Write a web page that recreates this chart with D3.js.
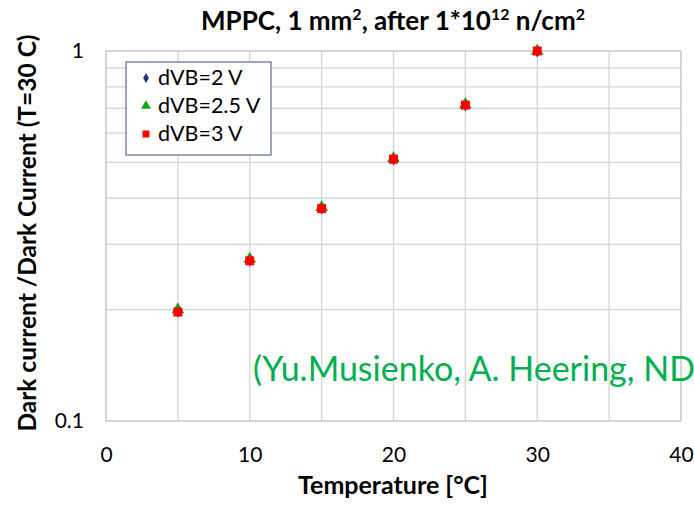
<!DOCTYPE html>
<html>
<head>
<meta charset="utf-8">
<script src="https://cdn.jsdelivr.net/npm/d3@7"></script>
<style>
  body { margin: 0; background: #fff; }
  svg { font-family: Lato, "Open Sans", sans-serif; }
  .grid line { stroke: #d4d4d4; stroke-width: 1.3; }
</style>
</head>
<body>
<svg width="694" height="507"></svg>
<script>
// Data
var temps = [5, 10, 15, 20, 25, 30];
var dvb2 = [0.198, 0.272, 0.376, 0.511, 0.715, 1.0];
var dvb25 = [0.200, 0.274, 0.378, 0.513, 0.717, 1.0];
var dvb3 = [0.197, 0.271, 0.375, 0.510, 0.714, 1.0];
var seriesNames = ["dVB=2 V", "dVB=2.5 V", "dVB=3 V"];
var xTicks = [0, 10, 20, 30, 40];
var yTicks = [0.1, 1];

var svg = d3.select("svg");
var x = d3.scaleLinear().domain([0, 40]).range([106, 681]);
var y = d3.scaleLog().domain([0.1, 1]).range([421, 51]);

// grid
var grid = svg.append("g").attr("class", "grid");
grid.selectAll(".v").data(d3.range(5, 40, 5)).enter().append("line")
  .attr("x1", d => x(d)).attr("x2", d => x(d))
  .attr("y1", y(1)).attr("y2", y(0.1));
var minor = [];
for (var k = 2; k <= 9; k++) minor.push(k / 10);
grid.selectAll(".h").data(minor).enter().append("line")
  .attr("x1", x(0)).attr("x2", x(40))
  .attr("y1", d => y(d)).attr("y2", d => y(d));

// plot border
svg.append("rect")
  .attr("x", x(0)).attr("y", y(1))
  .attr("width", x(40) - x(0)).attr("height", y(0.1) - y(1))
  .attr("fill", "none").attr("stroke", "#bfbfbf").attr("stroke-width", 1.3);

// axes
var xAxis = svg.append("g").attr("transform", "translate(0," + y(0.1) + ")")
  .call(d3.axisBottom(x).tickValues(xTicks).tickSize(0).tickPadding(26));
xAxis.select(".domain").remove();
xAxis.selectAll("text").attr("font-size", 21).attr("fill", "#000")
  .style("font-family", "Lato, sans-serif");

var yAxis = svg.append("g").attr("transform", "translate(" + x(0) + ",0)")
  .call(d3.axisLeft(y).tickValues(yTicks).tickFormat(d3.format("")).tickSize(0).tickPadding(22));
yAxis.select(".domain").remove();
yAxis.selectAll("text").attr("font-size", 21).attr("fill", "#000")
  .style("font-family", "Lato, sans-serif");

// titles
var title = svg.append("text").attr("x", 393).attr("y", 30)
  .attr("text-anchor", "middle").attr("font-size", 26).attr("font-weight", "bold");
title.append("tspan").text("MPPC, 1 mm");
title.append("tspan").text("2").attr("font-size", 16).attr("dy", -10);
title.append("tspan").text(", after 1*10").attr("dy", 10);
title.append("tspan").text("12").attr("font-size", 16).attr("dy", -10);
title.append("tspan").text(" n/cm").attr("dy", 10);
title.append("tspan").text("2").attr("font-size", 16).attr("dy", -10);

svg.append("text").attr("x", 393).attr("y", 494)
  .attr("text-anchor", "middle").attr("font-size", 25).attr("font-weight", "bold")
  .text("Temperature [°C]");

svg.append("text")
  .attr("transform", "translate(36," + 233 + ") rotate(-90)")
  .attr("text-anchor", "middle").attr("font-size", 24.5).attr("font-weight", "bold")
  .text("Dark current /Dark Current (T=30 C)");

// reference note
svg.append("text").attr("x", 253).attr("y", 381)
  .attr("font-size", 34).attr("fill", "#00b050")
  .text("(Yu.Musienko, A. Heering, NDIP)");

// series
var series = [
  { name: seriesNames[0], values: dvb2, color: "#1f3a78", shape: d3.symbolDiamond, size: 50 },
  { name: seriesNames[1], values: dvb25, color: "#1aa01a", shape: d3.symbolTriangle, size: 70 },
  { name: seriesNames[2], values: dvb3, color: "#ff0000", shape: d3.symbolSquare, size: 81 }
];

series.forEach(function(s) {
  svg.append("g").selectAll("path").data(temps).enter().append("path")
    .attr("d", d3.symbol().type(s.shape).size(s.size))
    .attr("fill", s.color)
    .attr("transform", (t, i) => "translate(" + x(t) + "," + y(s.values[i]) + ")");
});

// legend
var legend = svg.append("g");
legend.append("rect").attr("x", 126).attr("y", 62).attr("width", 145).attr("height", 93)
  .attr("fill", "#fff").attr("stroke", "#5a6b94").attr("stroke-width", 1.2);
series.forEach(function(s, i) {
  var ly = 78 + i * 28;
  legend.append("path")
    .attr("d", d3.symbol().type(s.shape).size(s.size * 0.6))
    .attr("fill", s.color)
    .attr("transform", "translate(146," + ly + ")");
  legend.append("text").attr("x", 158).attr("y", ly + 7)
    .attr("font-size", 21.5).text(s.name);
});
</script>
</body>
</html>
